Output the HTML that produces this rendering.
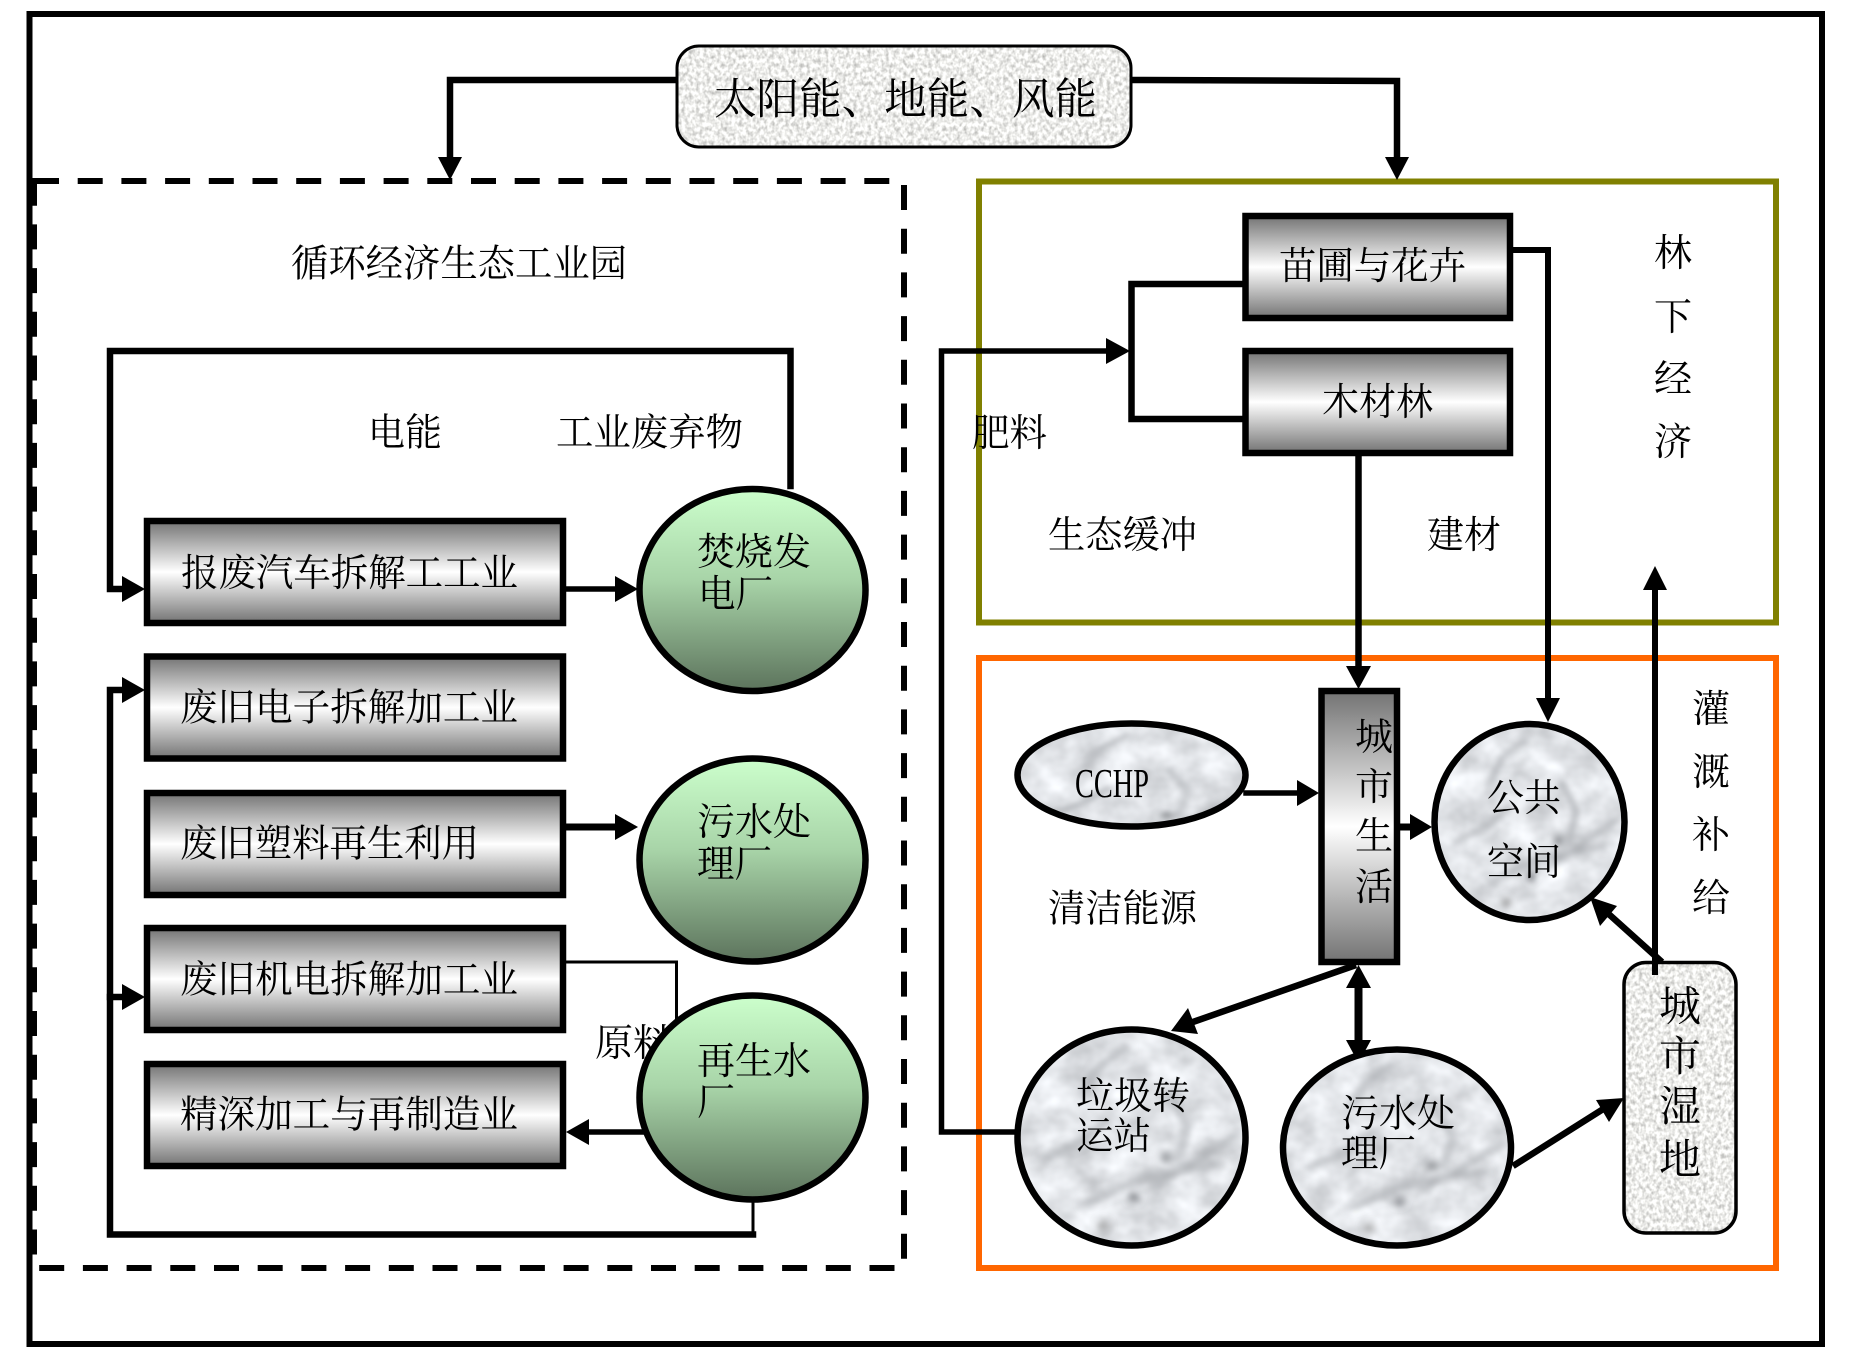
<!DOCTYPE html>
<html lang="zh">
<head>
<meta charset="utf-8">
<title>循环经济生态工业园</title>
<style>
html,body{margin:0;padding:0;background:#fff;width:1849px;height:1368px;overflow:hidden}
svg{display:block}
text{font-family:"Liberation Serif","Noto Serif CJK SC",serif;fill:#000;font-size:38px}
.l{fill:none;stroke:#000;stroke-width:6.5;stroke-linecap:square}
.box{stroke:#000;stroke-width:6.5;fill:url(#mg)}
.gc{stroke:#000;stroke-width:6.5;fill:url(#gg)}
.o{fill:none;stroke:#000;stroke-width:6.5}
</style>
</head>
<body>
<svg width="1849" height="1368" viewBox="0 0 1849 1368" xmlns="http://www.w3.org/2000/svg">
<defs>
<linearGradient id="mg" x1="0" y1="0" x2="0" y2="1">
<stop offset="0" stop-color="#737373"/><stop offset=".5" stop-color="#ffffff"/><stop offset="1" stop-color="#737373"/>
</linearGradient>
<linearGradient id="gg" x1="0" y1="0" x2="0" y2="1">
<stop offset="0" stop-color="#ccffcc"/><stop offset=".45" stop-color="#a8d4a8"/><stop offset="1" stop-color="#5c735c"/>
</linearGradient>
<filter id="grain" x="0" y="0" width="100%" height="100%" color-interpolation-filters="sRGB">
<feTurbulence type="fractalNoise" baseFrequency=".28 .22" numOctaves="2" seed="5"/>
<feColorMatrix values=".55 0 0 0 .655 .55 0 0 0 .655 .55 0 0 0 .645 0 0 0 0 1"/>
</filter>
<filter id="marb" x="0" y="0" width="100%" height="100%" color-interpolation-filters="sRGB">
<feTurbulence type="fractalNoise" baseFrequency=".03 .035" numOctaves="3" seed="8"/>
<feColorMatrix values=".3 0 0 0 .735 .3 0 0 0 .745 .3 0 0 0 .76 0 0 0 0 1"/>
</filter>
<filter id="bl" x="-20%" y="-20%" width="140%" height="140%"><feGaussianBlur stdDeviation="1.8"/></filter>
<g id="veins" fill="none" stroke="#abaeb2" stroke-width="2.4" filter="url(#bl)" stroke-linecap="round">
<path d="M48 9 L36 18 L30 30"/>
<path d="M12 60 L28 52 L40 42"/>
<path d="M60 72 L78 60 L96 48"/>
<path d="M30 80 L55 68 L88 62"/>
<path d="M66 30 L74 44 L70 60"/>
<circle cx="51" cy="77" r="1" stroke="#6d7074"/>
<circle cx="65" cy="59" r="1.2" stroke="#85888c"/>
<circle cx="38" cy="90" r="1" stroke="#999"/>
</g>
<clipPath id="c1"><ellipse cx="1131.5" cy="775" rx="116" ry="53"/></clipPath>
<clipPath id="c2"><ellipse cx="1529.5" cy="822" rx="97" ry="100"/></clipPath>
<clipPath id="c3"><ellipse cx="1131.5" cy="1137.5" rx="116" ry="110"/></clipPath>
<clipPath id="c4"><ellipse cx="1397" cy="1147.5" rx="116" ry="100"/></clipPath>
<clipPath id="ct"><rect x="677" y="46" width="454" height="101" rx="22" ry="22"/></clipPath>
<clipPath id="cw"><rect x="1624" y="962.5" width="112" height="270.5" rx="22" ry="22"/></clipPath>
</defs>

<!-- outer frame -->
<rect x="29.5" y="14" width="1792.5" height="1330" fill="none" stroke="#000" stroke-width="6"/>

<!-- dashed park frame -->
<rect x="34" y="181" width="870" height="1087" fill="none" stroke="#000" stroke-width="6" stroke-dasharray="25 18.7"/>

<!-- olive / orange -->
<rect x="979" y="181.5" width="797" height="441" fill="none" stroke="#808000" stroke-width="6"/>
<rect x="979" y="658" width="797" height="610" fill="none" stroke="#ff6600" stroke-width="6"/>

<!-- top connectors -->
<path class="l" d="M677 80 H450 V160"/>
<polygon points="438,157 462,157 450,180"/>
<path class="l" d="M1131 80 L1397 81 V160"/>
<polygon points="1385,157 1409,157 1397,180"/>

<!-- left loops -->
<path class="l" d="M790.5 486 V351 H110 V589 H125"/>
<polygon points="122,576 145,589 122,602"/>
<polygon points="122,677 145,690 122,703"/>
<path class="l" d="M125 690 H110 V1234.5 H753"/>
<path d="M753 1234 V1200" fill="none" stroke="#000" stroke-width="3"/>
<path class="l" d="M125 997 H110"/>
<polygon points="122,984 145,997 122,1010"/>
<path class="l" d="M566 589 H620" style="stroke-width:5.5"/>
<polygon points="615,576 638,589 615,602"/>
<path class="l" d="M566 827 H620" style="stroke-width:7"/>
<polygon points="615,814 638,827 615,840"/>
<path d="M566 962 H676.5 V1020" fill="none" stroke="#000" stroke-width="3"/>
<path class="l" d="M650 1132 H585" style="stroke-width:5.5"/>
<polygon points="589,1119 566,1132 589,1145"/>

<!-- 原料 sits behind the circle -->
<text x="595" y="1056" textLength="76" lengthAdjust="spacingAndGlyphs">原料</text>

<!-- left boxes -->
<rect class="box" x="147" y="521" width="416" height="102"/>
<rect class="box" x="147" y="656.5" width="416" height="102"/>
<rect class="box" x="147" y="793" width="416" height="102"/>
<rect class="box" x="147" y="928" width="416" height="102"/>
<rect class="box" x="147" y="1064" width="416" height="102"/>

<!-- green circles -->
<ellipse class="gc" cx="752.5" cy="590" rx="113" ry="101"/>
<ellipse class="gc" cx="752.5" cy="860" rx="113" ry="101.5"/>
<ellipse class="gc" cx="752.5" cy="1097.5" rx="113" ry="102"/>

<!-- right connectors -->
<path d="M1015 1132 H941.5 V351 H1110" fill="none" stroke="#000" stroke-width="5.5"/>
<polygon points="1106,338 1130,351 1106,364"/>
<path class="l" d="M1243 284 H1131.5 V419 H1243"/>
<path class="l" d="M1358.5 455 V670"/>
<polygon points="1346,666 1371,666 1358.5,689"/>
<path class="l" d="M1513 250 H1548 V702" style="stroke-width:6"/>
<polygon points="1536,698 1560,698 1548,722"/>
<path class="l" d="M1655 972 V588" style="stroke-width:6"/>
<polygon points="1643,590 1667,590 1655,566"/>
<path class="l" d="M1246 793 H1300" style="stroke-width:5.5"/>
<polygon points="1297,780 1319,793 1297,806"/>
<path class="l" d="M1400 827 H1414" style="stroke-width:7"/>
<polygon points="1410,814 1432,827 1410,840"/>
<path d="M1356 965 L1190 1023" fill="none" stroke="#000" stroke-width="6.5"/>
<polygon points="1171,1031 1188,1008 1198,1034"/>
<path d="M1358.5 985 V1045" fill="none" stroke="#000" stroke-width="8"/>
<polygon points="1346,988 1371,988 1358.5,965"/>
<polygon points="1346,1040 1371,1040 1358.5,1063"/>
<path d="M1513 1166 L1608 1106" fill="none" stroke="#000" stroke-width="6.5"/>
<polygon points="1624,1098 1609,1122 1596,1100"/>
<path d="M1662 962 L1602 908" fill="none" stroke="#000" stroke-width="6.5"/>
<polygon points="1590,897 1617,906 1600,926"/>

<!-- forest boxes -->
<rect class="box" x="1245.5" y="216" width="264.5" height="102"/>
<rect class="box" x="1245.5" y="351" width="264.5" height="102"/>

<!-- city life -->
<rect class="box" x="1321.5" y="691" width="75.5" height="271"/>

<!-- title box -->
<g clip-path="url(#ct)"><rect x="677" y="46" width="454" height="101" filter="url(#grain)"/></g>
<rect x="677" y="46" width="454" height="101" rx="22" ry="22" fill="none" stroke="#000" stroke-width="3"/>

<!-- wetland -->
<g clip-path="url(#cw)"><rect x="1624" y="962.5" width="112" height="270.5" filter="url(#grain)"/></g>
<rect x="1624" y="962.5" width="112" height="270.5" rx="22" ry="22" fill="none" stroke="#000" stroke-width="3.5"/>
<path d="M1655 958 V972" class="l" style="stroke-width:6"/>

<!-- marble ellipses -->
<g clip-path="url(#c1)"><rect x="1015" y="721" width="233" height="108" filter="url(#marb)"/>
<use href="#veins" transform="translate(1015,721) scale(2.33,1.6)"/></g>
<ellipse class="o" cx="1131.5" cy="775" rx="114" ry="51.5"/>

<g clip-path="url(#c2)"><rect x="1432" y="721" width="195" height="202" filter="url(#marb)"/>
<use href="#veins" transform="translate(1432,721) scale(1.95,2.02)"/></g>
<ellipse class="o" cx="1529.5" cy="822" rx="95" ry="98"/>

<g clip-path="url(#c3)"><rect x="1015" y="1027" width="233" height="221" filter="url(#marb)"/>
<use href="#veins" transform="translate(1015,1027) scale(2.33,2.21)"/></g>
<ellipse class="o" cx="1131.5" cy="1137.5" rx="114" ry="108"/>

<g clip-path="url(#c4)"><rect x="1281" y="1047" width="232" height="201" filter="url(#marb)"/>
<use href="#veins" transform="translate(1281,1047) scale(2.32,2.01)"/></g>
<ellipse class="o" cx="1397" cy="1147.5" rx="114" ry="98"/>

<!-- labels -->
<text x="714" y="114" style="font-size:43px" textLength="383" lengthAdjust="spacingAndGlyphs">太阳能、地能、风能</text>
<text x="291" y="276.5" textLength="336" lengthAdjust="spacingAndGlyphs">循环经济生态工业园</text>
<text x="368" y="445.5" textLength="74" lengthAdjust="spacingAndGlyphs">电能</text>
<text x="556" y="445.5" textLength="187" lengthAdjust="spacingAndGlyphs">工业废弃物</text>

<text x="181" y="586" textLength="337" lengthAdjust="spacingAndGlyphs">报废汽车拆解工工业</text>
<text x="180" y="720.5" textLength="338" lengthAdjust="spacingAndGlyphs">废旧电子拆解加工业</text>
<text x="180" y="856.5" textLength="299" lengthAdjust="spacingAndGlyphs">废旧塑料再生利用</text>
<text x="180" y="992.5" textLength="338" lengthAdjust="spacingAndGlyphs">废旧机电拆解加工业</text>
<text x="180" y="1127.5" textLength="338" lengthAdjust="spacingAndGlyphs">精深加工与再制造业</text>

<text x="697" y="565" textLength="114" lengthAdjust="spacingAndGlyphs">焚烧发</text>
<text x="698" y="607" textLength="75" lengthAdjust="spacingAndGlyphs">电厂</text>
<text x="697" y="835" textLength="114" lengthAdjust="spacingAndGlyphs">污水处</text>
<text x="697" y="877" textLength="75" lengthAdjust="spacingAndGlyphs">理厂</text>
<text x="697" y="1074" textLength="114" lengthAdjust="spacingAndGlyphs">再生水</text>
<text x="697" y="1115">厂</text>

<text x="1279" y="279" textLength="187" lengthAdjust="spacingAndGlyphs">苗圃与花卉</text>
<text x="1322" y="415" textLength="111" lengthAdjust="spacingAndGlyphs">木材林</text>
<text x="972" y="446" textLength="75" lengthAdjust="spacingAndGlyphs">肥料</text>
<text x="1048" y="548" textLength="149" lengthAdjust="spacingAndGlyphs">生态缓冲</text>
<text x="1427" y="548" textLength="74" lengthAdjust="spacingAndGlyphs">建材</text>
<text x="1048" y="921.5" textLength="149" lengthAdjust="spacingAndGlyphs">清洁能源</text>

<text x="1654" y="266">林</text>
<text x="1654" y="330">下</text>
<text x="1654" y="392">经</text>
<text x="1654" y="455">济</text>

<text x="1692" y="722">灌</text>
<text x="1692" y="785">溉</text>
<text x="1692" y="848">补</text>
<text x="1692" y="911">给</text>

<text x="1355" y="750">城</text>
<text x="1355" y="800">市</text>
<text x="1355" y="849">生</text>
<text x="1355" y="900">活</text>

<text x="1075" y="797" style="font-size:41px" textLength="74" lengthAdjust="spacingAndGlyphs">CCHP</text>
<text x="1487" y="811" textLength="74" lengthAdjust="spacingAndGlyphs">公共</text>
<text x="1487" y="875" textLength="74" lengthAdjust="spacingAndGlyphs">空间</text>
<text x="1076" y="1109" textLength="114" lengthAdjust="spacingAndGlyphs">垃圾转</text>
<text x="1076" y="1149" textLength="75" lengthAdjust="spacingAndGlyphs">运站</text>
<text x="1341" y="1126.5" textLength="114" lengthAdjust="spacingAndGlyphs">污水处</text>
<text x="1341" y="1166.5" textLength="75" lengthAdjust="spacingAndGlyphs">理厂</text>

<text x="1659" y="1021" style="font-size:42px">城</text>
<text x="1659" y="1071" style="font-size:42px">市</text>
<text x="1659" y="1121" style="font-size:42px">湿</text>
<text x="1659" y="1174" style="font-size:42px">地</text>
</svg>
</body>
</html>
